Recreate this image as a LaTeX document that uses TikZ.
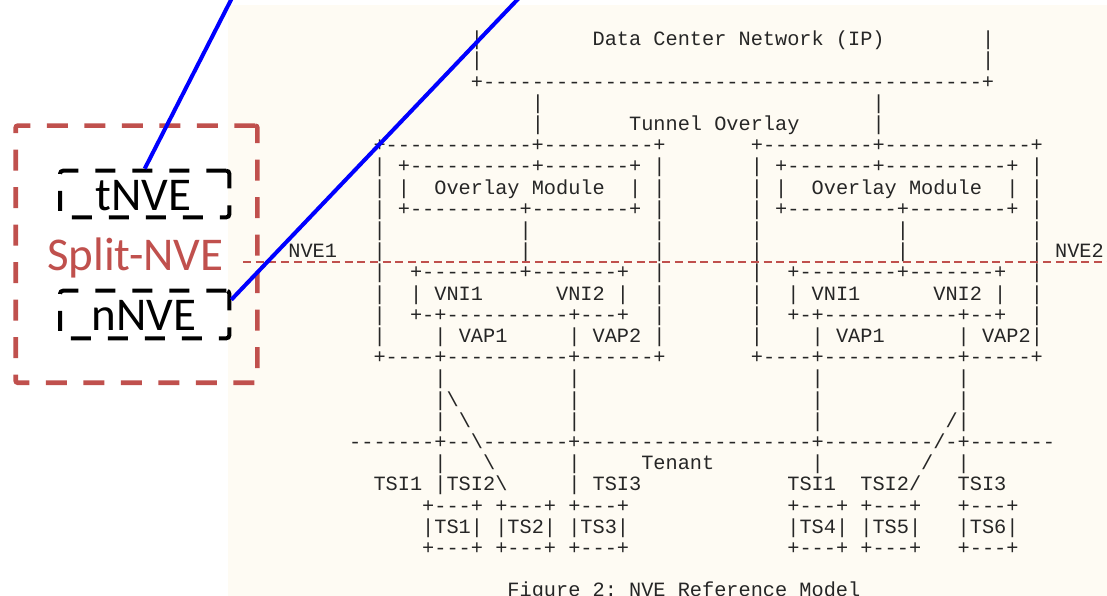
\documentclass[tikz,border=0pt]{standalone}
\usepackage{fontspec}
\setmonofont{Liberation Mono}
\newfontfamily\calfont{Carlito}
\definecolor{cream}{HTML}{FEFBF3}
\definecolor{nvered}{HTML}{C0504D}
\definecolor{asciiink}{HTML}{262626}
\ExplSyntaxOn
\cs_new:Npn \asciidashes #1 { \prg_replicate:nn {#1} {-} }
\ExplSyntaxOff
\newcommand\asciiat[3]{\node[asc] (a#2c#1) at ({477+(#1)*12.17-6.085},{45.7+((#2)-1)*21.2}) {#3};}
\tikzset{
  asc/.style={anchor=base west, inner sep=0pt, outer sep=0pt,
    font=\ttfamily\fontsize{20.28}{24}\selectfont, text=asciiink},
  splitbox/.style={draw=nvered, line width=4.6pt, dash pattern=on 21pt off 16.5pt,
    rounded corners=2pt, inner sep=0pt},
  nvebox/.style={draw=black, line width=4pt, dash pattern=on 20pt off 17pt,
    rounded corners=3pt, inner sep=0pt},
  caltext/.style={font=\calfont\fontsize{47}{56}\selectfont, anchor=base, inner sep=0pt},
  nveline/.style={draw=nvered, line width=2.4pt, dash pattern=on 8pt off 4.7pt},
  blueline/.style={draw=blue, line width=4pt}
}
\begin{document}
\begin{tikzpicture}[x=1pt,y=-1pt]
\useasboundingbox (0,0) rectangle (1107,596);
\clip (0,0) rectangle (1107,596);
\fill[white] (0,0) rectangle (1107,596);
\fill[cream] (227.7,5) rectangle (1107,596);
% row 1-5
\asciiat{0}{1}{|}\asciiat{10}{1}{Data Center Network (IP)}\asciiat{42}{1}{|}
\asciiat{0}{2}{|}\asciiat{42}{2}{|}
\asciiat{0}{3}{+\asciidashes{41}+}
\asciiat{5}{4}{|}\asciiat{33}{4}{|}
\asciiat{5}{5}{|}\asciiat{13}{5}{Tunnel Overlay}\asciiat{33}{5}{|}
% row 6
\asciiat{-8}{6}{+\asciidashes{12}+\asciidashes{9}+}
\asciiat{23}{6}{+\asciidashes{9}+\asciidashes{12}+}
% row 7
\asciiat{-8}{7}{|}\asciiat{-6}{7}{+\asciidashes{10}+\asciidashes{7}+}\asciiat{15}{7}{|}
\asciiat{23}{7}{|}\asciiat{25}{7}{+\asciidashes{7}+\asciidashes{10}+}\asciiat{46}{7}{|}
% row 8
\asciiat{-8}{8}{|}\asciiat{-6}{8}{|}\asciiat{-3}{8}{Overlay Module}\asciiat{13}{8}{|}\asciiat{15}{8}{|}
\asciiat{23}{8}{|}\asciiat{25}{8}{|}\asciiat{28}{8}{Overlay Module}\asciiat{44}{8}{|}\asciiat{46}{8}{|}
% row 9
\asciiat{-8}{9}{|}\asciiat{-6}{9}{+\asciidashes{9}+\asciidashes{8}+}\asciiat{15}{9}{|}
\asciiat{23}{9}{|}\asciiat{25}{9}{+\asciidashes{9}+\asciidashes{8}+}\asciiat{46}{9}{|}
% row 10-11
\asciiat{-8}{10}{|}\asciiat{4}{10}{|}\asciiat{15}{10}{|}
\asciiat{23}{10}{|}\asciiat{35}{10}{|}\asciiat{46}{10}{|}
\asciiat{-15}{11}{NVE1}\asciiat{-8}{11}{|}\asciiat{4}{11}{|}\asciiat{15}{11}{|}
\asciiat{23}{11}{|}\asciiat{35}{11}{|}\asciiat{46}{11}{|}\asciiat{48}{11}{NVE2}
% row 12
\asciiat{-8}{12}{|}\asciiat{-5}{12}{+\asciidashes{8}+\asciidashes{7}+}\asciiat{15}{12}{|}
\asciiat{23}{12}{|}\asciiat{26}{12}{+\asciidashes{8}+\asciidashes{7}+}\asciiat{46}{12}{|}
% row 13
\asciiat{-8}{13}{|}\asciiat{-5}{13}{|}\asciiat{-3}{13}{VNI1}\asciiat{7}{13}{VNI2}\asciiat{12}{13}{|}\asciiat{15}{13}{|}
\asciiat{23}{13}{|}\asciiat{26}{13}{|}\asciiat{28}{13}{VNI1}\asciiat{38}{13}{VNI2}\asciiat{43}{13}{|}\asciiat{46}{13}{|}
% row 14
\asciiat{-8}{14}{|}\asciiat{-5}{14}{+-+\asciidashes{10}+\asciidashes{3}+}\asciiat{15}{14}{|}
\asciiat{23}{14}{|}\asciiat{26}{14}{+-+\asciidashes{11}+\asciidashes{2}+}\asciiat{46}{14}{|}
% row 15
\asciiat{-8}{15}{|}\asciiat{-3}{15}{|}\asciiat{-1}{15}{VAP1}\asciiat{8}{15}{|}\asciiat{10}{15}{VAP2}\asciiat{15}{15}{|}
\asciiat{23}{15}{|}\asciiat{28}{15}{|}\asciiat{30}{15}{VAP1}\asciiat{40}{15}{|}\asciiat{42}{15}{VAP2}\asciiat{46}{15}{|}
% row 16
\asciiat{-8}{16}{+\asciidashes{4}+\asciidashes{10}+\asciidashes{6}+}
\asciiat{23}{16}{+\asciidashes{4}+\asciidashes{11}+\asciidashes{5}+}
% row 17-19
\asciiat{-3}{17}{|}\asciiat{8}{17}{|}\asciiat{28}{17}{|}\asciiat{40}{17}{|}
\asciiat{-3}{18}{|\textbackslash}\asciiat{8}{18}{|}\asciiat{28}{18}{|}\asciiat{40}{18}{|}
\asciiat{-3}{19}{|}\asciiat{-1}{19}{\textbackslash}\asciiat{8}{19}{|}\asciiat{28}{19}{|}\asciiat{39}{19}{/|}
% row 20
\asciiat{-10}{20}{\asciidashes{7}+--\textbackslash\asciidashes{7}+\asciidashes{19}+\asciidashes{9}/-+\asciidashes{7}}
% row 21
\asciiat{-3}{21}{|}\asciiat{1}{21}{\textbackslash}\asciiat{8}{21}{|}\asciiat{14}{21}{Tenant}\asciiat{28}{21}{|}\asciiat{37}{21}{/}\asciiat{40}{21}{|}
% row 22
\asciiat{-8}{22}{TSI1}\asciiat{-3}{22}{|TSI2\textbackslash}\asciiat{8}{22}{|}\asciiat{10}{22}{TSI3}
\asciiat{26}{22}{TSI1}\asciiat{32}{22}{TSI2/}\asciiat{40}{22}{TSI3}
% row 23-25
\foreach \c in {-4,2,8,26,32,40}{\asciiat{\c}{23}{+---+}\asciiat{\c}{25}{+---+}}
\asciiat{-4}{24}{|TS1|}\asciiat{2}{24}{|TS2|}\asciiat{8}{24}{|TS3|}
\asciiat{26}{24}{|TS4|}\asciiat{32}{24}{|TS5|}\asciiat{40}{24}{|TS6|}
% caption
\asciiat{3}{27}{Figure 2: NVE Reference Model}
% red dashed split line
\coordinate (dl) at (243,261.7);
\coordinate (dr) at (1110,261.7);
\draw[nveline] (dl) -- (dr);
% split-NVE box
\node[splitbox, minimum width=241.6pt, minimum height=257pt] (split) at (136.5,254.2) {};
\node[nvebox, minimum width=169.3pt, minimum height=46.6pt] (tnve) at (144.7,194) {};
\node[nvebox, minimum width=169.3pt, minimum height=47.6pt] (nnve) at (144.7,314.5) {};
\node[caltext] (tnvelabel) at (143.3,210) {tNVE};
\node[caltext] (nnvelabel) at (143.8,330) {nNVE};
\node[caltext, text=nvered] (splitlabel) at (135.3,270) {Split-NVE};
% blue lines
\coordinate (b1) at (233.5,-5);
\coordinate (b2) at (521.8,-5);
\draw[blueline] (tnve.north) -- (b1);
\draw[blueline] ([yshift=-11pt]nnve.north east) -- (b2);
\end{tikzpicture}
\end{document}
